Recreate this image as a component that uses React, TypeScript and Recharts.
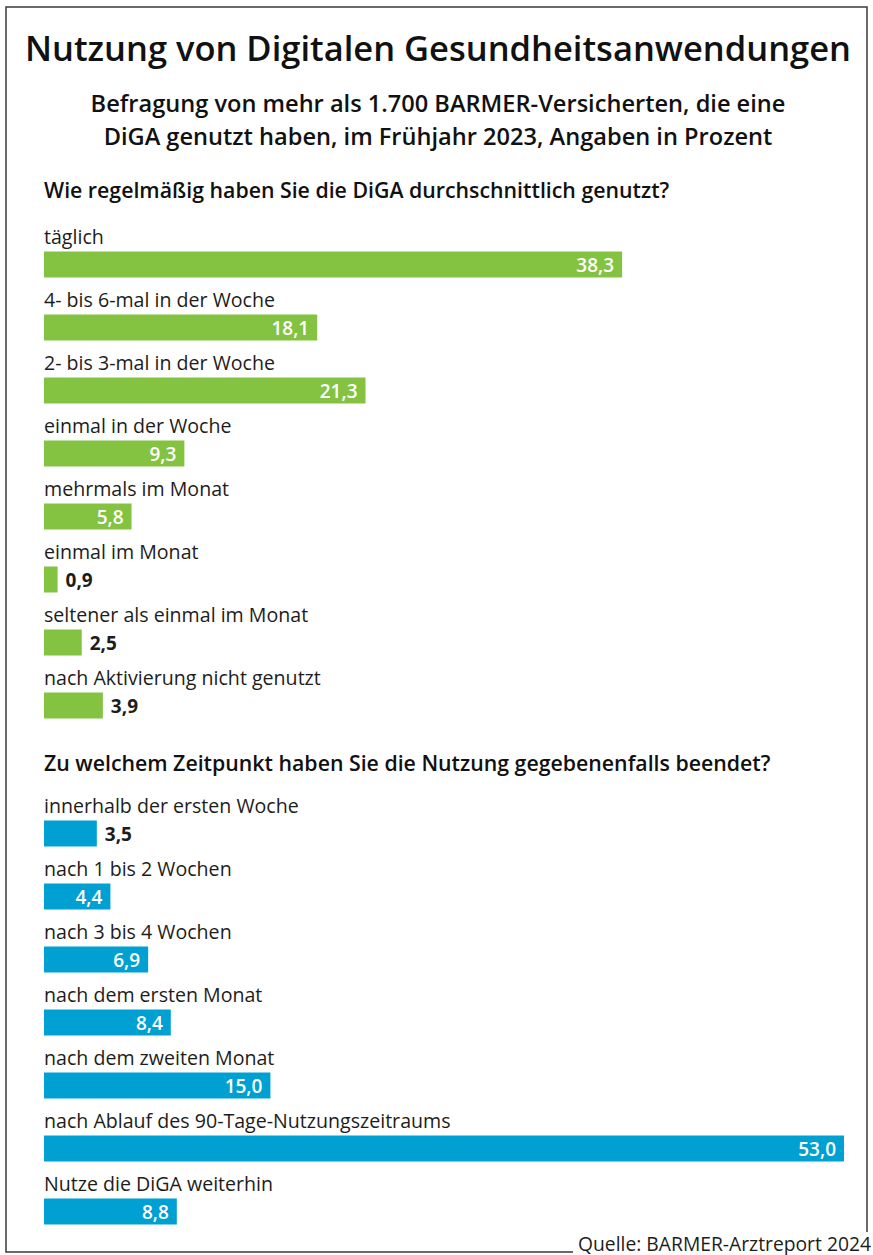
import React from "react";
import { BarChart, Bar, XAxis, YAxis, LabelList } from "recharts";

const TITLE = "Nutzung von Digitalen Gesundheitsanwendungen";
const SUBTITLE_LINES = [
  "Befragung von mehr als 1.700 BARMER-Versicherten, die eine",
  "DiGA genutzt haben, im Frühjahr 2023, Angaben in Prozent",
];
const QUESTION_1 = "Wie regelmäßig haben Sie die DiGA durchschnittlich genutzt?";
const QUESTION_2 = "Zu welchem Zeitpunkt haben Sie die Nutzung gegebenenfalls beendet?";
const SOURCE = "Quelle: BARMER-Arztreport 2024";

const freqCategories = [
  "täglich",
  "4- bis 6-mal in der Woche",
  "2- bis 3-mal in der Woche",
  "einmal in der Woche",
  "mehrmals im Monat",
  "einmal im Monat",
  "seltener als einmal im Monat",
  "nach Aktivierung nicht genutzt",
];
const freqValues = [38.3, 18.1, 21.3, 9.3, 5.8, 0.9, 2.5, 3.9];

const stopCategories = [
  "innerhalb der ersten Woche",
  "nach 1 bis 2 Wochen",
  "nach 3 bis 4 Wochen",
  "nach dem ersten Monat",
  "nach dem zweiten Monat",
  "nach Ablauf des 90-Tage-Nutzungszeitraums",
  "Nutze die DiGA weiterhin",
];
const stopValues = [3.5, 4.4, 6.9, 8.4, 15.0, 53.0, 8.8];

const X_MAX = 53;
const FONT = "'Open Sans', 'Noto Sans', sans-serif";
const GREEN = "#84c341";
const BLUE = "#00a1d2";
const TEXT = "#1d1d1b";

const freqData = freqCategories.map((name, i) => ({ name, value: freqValues[i] }));
const stopData = stopCategories.map((name, i) => ({ name, value: stopValues[i] }));

const fmt = (v: number) => v.toFixed(1).replace(".", ",");

const NameLabel = (props: any) => {
  const { x, y, value } = props;
  return (
    <text x={x} y={y - 7.5} fontSize={19.6} fill={TEXT} fontFamily={FONT}>
      {value}
    </text>
  );
};

const ValueLabel = (props: any) => {
  const { x, y, width, height, value } = props;
  const inside = width > 60;
  const by = y + height / 2 + 7;
  if (inside) {
    return (
      <text
        x={x + width - 8}
        y={by}
        textAnchor="end"
        fontSize={19}
        fontWeight={600}
        fill="#ffffff"
        fontFamily={FONT}
      >
        {fmt(value)}
      </text>
    );
  }
  return (
    <text x={x + width + 8} y={by} fontSize={19} fontWeight={700} fill={TEXT} fontFamily={FONT}>
      {fmt(value)}
    </text>
  );
};

const Section = ({
  data,
  color,
  top,
  marginTop,
}: {
  data: { name: string; value: number }[];
  color: string;
  top: number;
  marginTop: number;
}) => {
  const plotH = data.length * 63;
  return (
    <div style={{ position: "absolute", left: 0, top }}>
      <BarChart
        width={873}
        height={marginTop + plotH + 10}
        data={data}
        layout="vertical"
        margin={{ top: marginTop, right: 873 - 44 - 800, bottom: 10, left: 44 }}
      >
        <XAxis type="number" domain={[0, X_MAX]} hide />
        <YAxis type="category" dataKey="name" hide />
        <Bar dataKey="value" fill={color} barSize={26} isAnimationActive={false}>
          <LabelList dataKey="name" content={NameLabel} />
          <LabelList dataKey="value" content={ValueLabel} />
        </Bar>
      </BarChart>
    </div>
  );
};

export default function App() {
  return (
    <div
      style={{
        position: "absolute",
        left: 0,
        top: 0,
        width: 873,
        height: 1255,
        background: "#fff",
        fontFamily: FONT,
      }}
    >
      <svg width={873} height={1255} style={{ position: "absolute", left: 0, top: 0 }}>
        <path d="M 573 1252 H 6 V 7 H 867 V 1232" fill="none" stroke="#3a3a3a" strokeWidth={1.5} />
        <text x={438} y={61} textAnchor="middle" fontSize={34.5} fontWeight={600} fill="#111" fontFamily={FONT}>
          {TITLE}
        </text>
        {SUBTITLE_LINES.map((l, i) => (
          <text
            key={i}
            x={438}
            y={112 + i * 33}
            textAnchor="middle"
            fontSize={23.6}
            fontWeight={600}
            fill="#111"
            fontFamily={FONT}
          >
            {l}
          </text>
        ))}
        <text x={44} y={198} fontSize={21.3} fontWeight={600} fill="#111" fontFamily={FONT}>
          {QUESTION_1}
        </text>
        <text x={44} y={771} fontSize={21.3} fontWeight={600} fill="#111" fontFamily={FONT}>
          {QUESTION_2}
        </text>
        <text x={871} y={1250.5} textAnchor="end" fontSize={19.3} fill={TEXT} fontFamily={FONT}>
          {SOURCE}
        </text>
      </svg>
      <Section data={freqData} color={GREEN} top={200} marginTop={32.5} />
      <Section data={stopData} color={BLUE} top={780} marginTop={21.5} />
    </div>
  );
}
